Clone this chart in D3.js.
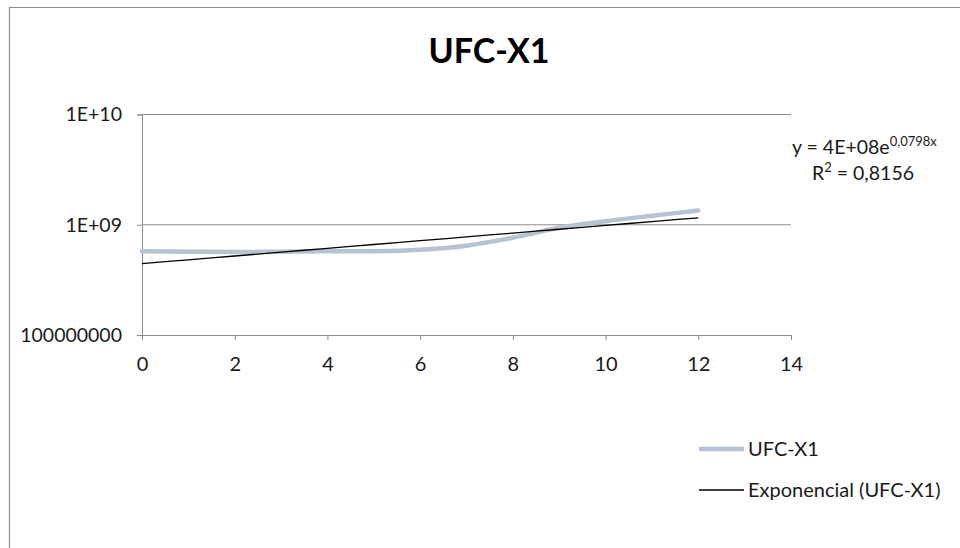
<!DOCTYPE html>
<meta charset="utf-8">
<script src="https://d3js.org/d3.v7.min.js"></script>
<style>
    body { margin: 0; background: #fff; }
    text { font-family: Lato, "Open Sans", sans-serif; fill: #1a1a1a; }
</style>
<div id="my_chart"><svg></svg></div>
<script>
    // values
    var xValues = [0, 1, 2, 3, 4, 5, 6, 7, 8, 9, 10, 11, 12];
    var ufcValues = [5.75e8, 5.70e8, 5.66e8, 5.70e8, 5.75e8, 5.75e8, 5.94e8, 6.46e8, 7.62e8, 9.39e8, 1.076e9, 1.206e9, 1.346e9];
    var xTicks = [0, 2, 4, 6, 8, 10, 12, 14];
    var yTicks = [1e8, 1e9, 1e10];
    var yTickLabels = ["100000000", "1E+09", "1E+10"];
    // exponential trend shown by the chart: y = a * e^(b x)
    var trendA = 4.44e8, trendB = 0.0798;

    var width = 960, height = 548;
    var svg = d3.select("#my_chart").select("svg")
        .attr("width", width)
        .attr("height", height);

    // chart frame (only top and left edges are visible)
    svg.append("line").attr("x1", 9).attr("x2", width).attr("y1", 7.5).attr("y2", 7.5)
        .attr("stroke", "#8c8c8c").attr("stroke-width", 1.2);
    svg.append("line").attr("x1", 9.5).attr("x2", 9.5).attr("y1", 7).attr("y2", height)
        .attr("stroke", "#8c8c8c").attr("stroke-width", 1.2);

    var x = d3.scaleLinear().domain([0, 14]).range([142, 791]);
    var y = d3.scaleLog().domain([1e8, 1e10]).range([335, 114.5]);

    // title
    svg.append("text")
        .attr("x", 489)
        .attr("y", 63)
        .attr("text-anchor", "middle")
        .style("font-size", "34px")
        .style("font-weight", "bold")
        .style("fill", "#000")
        .text("UFC-X1");

    // horizontal gridlines
    svg.append("g").selectAll("line")
        .data(yTicks.slice(1))
        .enter().append("line")
        .attr("x1", x(0)).attr("x2", x(14))
        .attr("y1", function(d) { return y(d); })
        .attr("y2", function(d) { return y(d); })
        .attr("stroke", "#8c8c8c").attr("stroke-width", 1);

    // Y axis
    var yAxis = svg.append("g")
        .attr("transform", "translate(" + x(0) + ",0)")
        .call(d3.axisLeft(y).tickValues(yTicks)
            .tickFormat(function(d, i) { return yTickLabels[i]; })
            .tickSize(5).tickPadding(15));
    yAxis.select(".domain").attr("stroke", "#8c8c8c");
    yAxis.selectAll(".tick line").attr("stroke", "#8c8c8c");
    yAxis.selectAll("text").style("font-size", "19.5px").style("font-family", "Lato").attr("fill", "#1a1a1a");

    // X axis
    var xAxis = svg.append("g")
        .attr("transform", "translate(0," + y(1e8) + ")")
        .call(d3.axisBottom(x).tickValues(xTicks).tickSize(5).tickPadding(17).tickSizeOuter(0));
    xAxis.select(".domain").attr("stroke", "#8c8c8c").attr("d", "M" + (x(0) - 5) + ",0.5H" + x(14));
    xAxis.selectAll(".tick line").attr("stroke", "#8c8c8c");
    xAxis.selectAll("text").style("font-size", "20px").style("font-family", "Lato").attr("fill", "#1a1a1a");

    var series = xValues.map(function(d, i) { return { x: d, v: ufcValues[i] }; });

    // data line (smoothed)
    svg.append("path")
        .datum(series)
        .attr("fill", "none")
        .attr("stroke", "#b7c3d1")
        .attr("stroke-width", 4.5)
        .attr("stroke-linecap", "round")
        .attr("d", d3.line()
            .curve(d3.curveCatmullRom)
            .x(function(d) { return x(d.x); })
            .y(function(d) { return y(d.v); }));

    // exponential trendline
    svg.append("path")
        .datum(d3.extent(xValues))
        .attr("fill", "none")
        .attr("stroke", "#000")
        .attr("stroke-width", 1.3)
        .attr("d", function(ext) {
            var pts = d3.range(ext[0], ext[1] + 0.001, 0.5);
            return d3.line()
                .x(function(d) { return x(d); })
                .y(function(d) { return y(trendA * Math.exp(trendB * d)); })(pts);
        });

    // trendline equation
    var eq = svg.append("text").attr("x", 792).attr("y", 153.5).style("font-size", "19.5px");
    eq.append("tspan").text("y = 4E+08e");
    eq.append("tspan").attr("dy", -8).style("font-size", "13px").text("0,0798x");
    var r2 = svg.append("text").attr("x", 812).attr("y", 180).style("font-size", "19.5px");
    r2.append("tspan").text("R");
    r2.append("tspan").attr("dy", -8).style("font-size", "13px").text("2");
    r2.append("tspan").attr("dy", 8).text(" = 0,8156");

    // legend
    var legend = [
        { label: "UFC-X1", color: "#b7c3d1", w: 4.5, y: 449 },
        { label: "Exponencial (UFC-X1)", color: "#000", w: 1.3, y: 490 }
    ];
    var lg = svg.append("g").selectAll("g").data(legend).enter().append("g");
    lg.append("line")
        .attr("x1", 699).attr("x2", 744)
        .attr("y1", function(d) { return d.y; }).attr("y2", function(d) { return d.y; })
        .attr("stroke", function(d) { return d.color; })
        .attr("stroke-width", function(d) { return d.w; });
    lg.append("text")
        .attr("x", 748)
        .attr("y", function(d) { return d.y + 7; })
        .style("font-size", "20px")
        .text(function(d) { return d.label; });
</script>
